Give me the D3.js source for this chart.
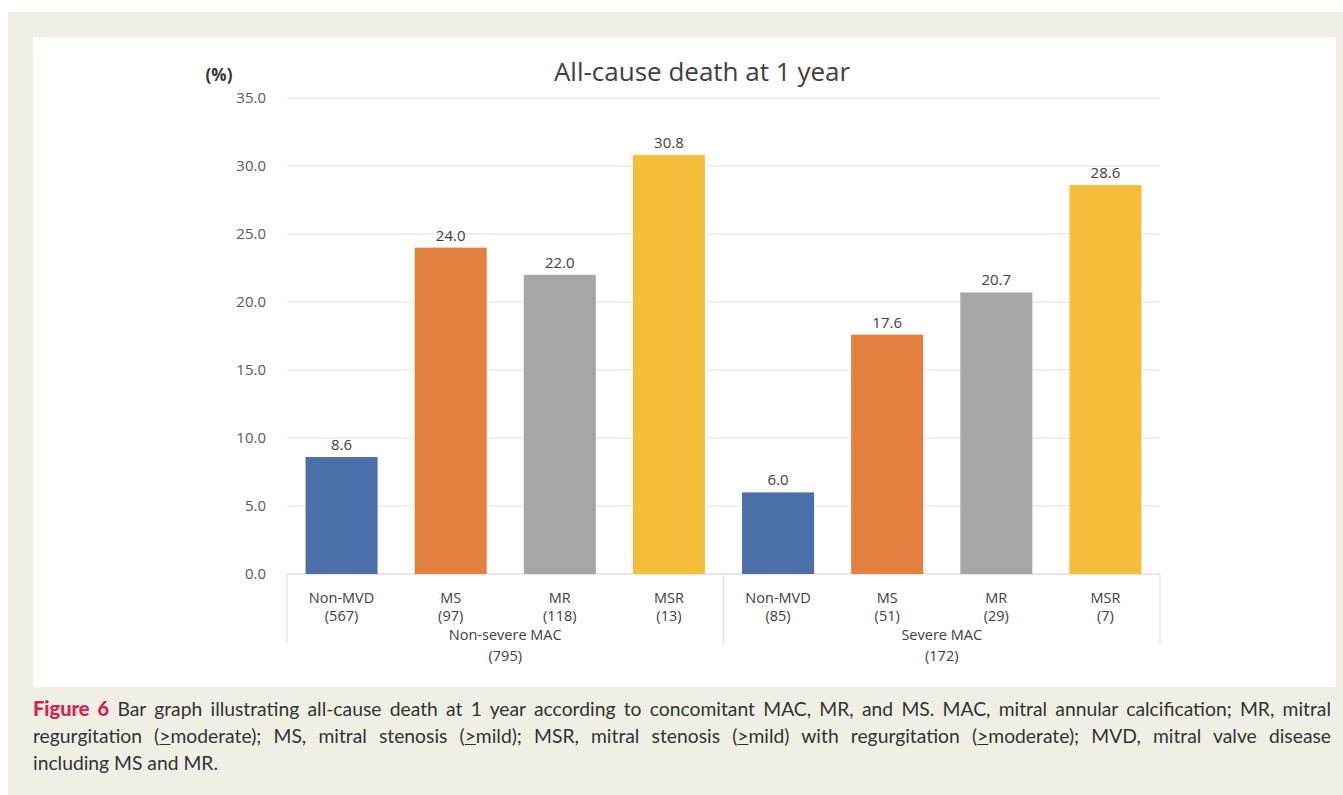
<!DOCTYPE html>
<html><head><meta charset="utf-8">
<script src="https://cdn.jsdelivr.net/npm/d3@7"></script>
<style>
body{margin:0;background:#fff;}
#wrap{position:absolute;left:0;top:0;width:1343px;height:795px;background:#fff;}
#panel{position:absolute;left:8px;top:12px;width:1335px;height:783px;background:#efefe6;}
svg{position:absolute;left:0;top:0;}
.cap{position:absolute;left:33px;width:1298px;font-family:Lato,"Open Sans",sans-serif;font-size:19.3px;color:#333;text-align:justify;white-space:nowrap;}
.cap.j{text-align-last:justify;}
.cap b{color:#d42450;font-weight:900;font-size:20px;}
</style></head>
<body>
<div id="wrap"><div id="panel"></div>
<svg id="chart" width="1343" height="795"></svg>
<div class="cap j" style="top:696px"><b>Figure 6</b>&nbsp;Bar graph illustrating all-cause death at 1 year according to concomitant MAC, MR, and MS. MAC, mitral annular calcification; MR, mitral</div>
<div class="cap j" style="top:724px">regurgitation (<u>&gt;</u>moderate); MS, mitral stenosis (<u>&gt;</u>mild); MSR, mitral stenosis (<u>&gt;</u>mild) with regurgitation (<u>&gt;</u>moderate); MVD, mitral valve disease</div>
<div class="cap" style="top:751px">including MS and MR.</div>
</div>
<script>
const categories = ["Non-MVD","MS","MR","MSR","Non-MVD","MS","MR","MSR"];
const counts = ["(567)","(97)","(118)","(13)","(85)","(51)","(29)","(7)"];
const values = [8.6,24.0,22.0,30.8,6.0,17.6,20.7,28.6];
const groups = ["Non-severe MAC","Severe MAC"];
const groupTotals = ["(795)","(172)"];
const yTicks = [0,5,10,15,20,25,30,35];
const colors = ["#4a6fa9","#e3803f","#a6a6a6","#f4be3a"];

const svg = d3.select("#chart");
svg.append("rect").attr("x",33).attr("y",37).attr("width",1303).attr("height",650).attr("fill","#fff");

const L=287,R=1160,T=98,B=574;
const x = d3.scaleBand().domain(d3.range(values.length)).range([L,R]).paddingInner(0.34).paddingOuter(0.17);
const y = d3.scaleLinear().domain([0,35]).range([B,T]);
const font = "'Open Sans',sans-serif";
const fs = 15, fsc = 14.5;

svg.append("g").selectAll("line").data(yTicks).join("line")
 .attr("x1",L).attr("x2",R).attr("y1",d=>y(d)).attr("y2",d=>y(d))
 .attr("stroke",d=>d===0?"#d0d0d0":"#e2e2e2").attr("stroke-width",1.2);

svg.append("g").selectAll("text").data(yTicks).join("text")
 .attr("x",266).attr("y",d=>y(d)).attr("dy","0.35em").attr("text-anchor","end")
 .attr("font-family",font).attr("font-size",fs).attr("fill","#595959")
 .text(d=>d.toFixed(1));

svg.append("g").selectAll("rect").data(values).join("rect")
 .attr("x",(d,i)=>x(i)).attr("width",x.bandwidth())
 .attr("y",d=>y(d)).attr("height",d=>y(0)-y(d))
 .attr("fill",(d,i)=>colors[i%4]);

svg.append("g").selectAll("text").data(values).join("text")
 .attr("x",(d,i)=>x(i)+x.bandwidth()/2).attr("y",d=>y(d)-7)
 .attr("text-anchor","middle").attr("font-family",font).attr("font-size",fs).attr("fill","#404040")
 .text(d=>d.toFixed(1));

const cx = (d,i)=>x(i)+x.bandwidth()/2;
svg.append("g").selectAll("text").data(categories).join("text")
 .attr("x",cx).attr("y",603)
 .attr("text-anchor","middle").attr("font-family",font).attr("font-size",fsc).attr("fill","#404040").text(d=>d);
svg.append("g").selectAll("text").data(counts).join("text")
 .attr("x",cx).attr("y",621)
 .attr("text-anchor","middle").attr("font-family",font).attr("font-size",fsc).attr("fill","#404040").text(d=>d);

const seps = [L, L+(R-L)/2, R];
svg.append("g").selectAll("line").data(seps).join("line")
 .attr("x1",d=>d).attr("x2",d=>d).attr("y1",B).attr("y2",643)
 .attr("stroke","#e0e0e0").attr("stroke-width",1.2);

groups.forEach((g,i)=>{
  const gx = L+(R-L)/4*(1+2*i);
  svg.append("text").attr("x",gx).attr("y",640).attr("text-anchor","middle")
   .attr("font-family",font).attr("font-size",fsc).attr("fill","#404040").text(g);
  svg.append("text").attr("x",gx).attr("y",661).attr("text-anchor","middle")
   .attr("font-family",font).attr("font-size",fsc).attr("fill","#404040").text(groupTotals[i]);
});

svg.append("text").attr("x",702).attr("y",81).attr("text-anchor","middle")
 .attr("font-family",font).attr("font-size",26).attr("fill","#404040").text("All-cause death at 1 year");
svg.append("text").attr("x",219).attr("y",81).attr("text-anchor","middle")
 .attr("font-family",font).attr("font-size",17).attr("font-weight","bold").attr("fill","#333").text("(%)");
</script>
</body></html>
